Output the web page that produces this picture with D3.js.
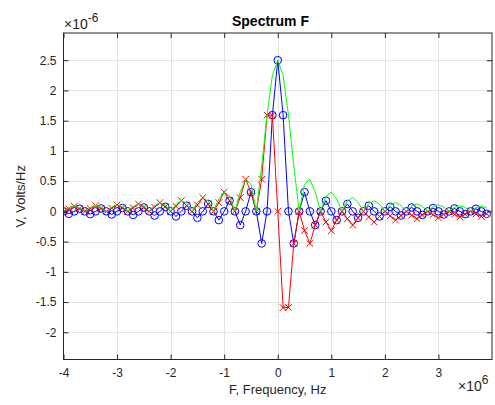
<!DOCTYPE html>
<html>
<head>
<meta charset="utf-8">
<script src="https://cdn.jsdelivr.net/npm/d3@7"></script>
<style>
  html, body { margin: 0; padding: 0; background: #ffffff; }
  svg { display: block; font-family: "Liberation Sans", Arial, Helvetica, sans-serif; }
</style>
</head>
<body>
<svg id="chart" width="495" height="405"></svg>
<script>
// Frequency samples, in units of 1e6 Hz
const freqMHz = [
  -4.0, -3.9, -3.8, -3.7, -3.6, -3.5, -3.4, -3.3, -3.2, -3.1,
  -3.0, -2.9, -2.8, -2.7, -2.6, -2.5, -2.4, -2.3, -2.2, -2.1,
  -2.0, -1.9, -1.8, -1.7, -1.6, -1.5, -1.4, -1.3, -1.2, -1.1,
  -1.0, -0.9, -0.8, -0.7, -0.6, -0.5, -0.4, -0.3, -0.2, -0.1,
   0.0,  0.1,  0.2,  0.3,  0.4,  0.5,  0.6,  0.7,  0.8,  0.9,
   1.0,  1.1,  1.2,  1.3,  1.4,  1.5,  1.6,  1.7,  1.8,  1.9,
   2.0,  2.1,  2.2,  2.3,  2.4,  2.5,  2.6,  2.7,  2.8,  2.9,
   3.0,  3.1,  3.2,  3.3,  3.4,  3.5,  3.6,  3.7,  3.8,  3.9
];
// Real part (blue, circles), units of 1e-6 V/Hz
const realPart = [
  0, -0.0408, 0, 0.0430, 0, -0.0455, 0, 0.0482, 0, -0.0513,
  0, 0.0549, 0, -0.0589, 0, 0.0637, 0, -0.0692, 0, 0.0758,
  0, -0.0838, 0, 0.0936, 0, -0.1061, 0, 0.1224, 0, -0.1447,
  0, 0.1768, 0, -0.2274, 0, 0.3183, 0, -0.5305, 0, 1.5915,
  2.5, 1.5915, 0, -0.5305, 0, 0.3183, 0, -0.2274, 0, 0.1768,
  0, -0.1447, 0, 0.1224, 0, -0.1061, 0, 0.0936, 0, -0.0838,
  0, 0.0758, 0, -0.0692, 0, 0.0637, 0, -0.0589, 0, 0.0549,
  0, -0.0513, 0, 0.0482, 0, -0.0455, 0, 0.0430, 0, -0.0408
];
// Imaginary part (red, crosses), units of 1e-6 V/Hz
const imagPart = [
  0, 0.0408, 0.0838, 0.0430, 0, 0.0455, 0.0936, 0.0482, 0, 0.0513,
  0.1061, 0.0549, 0, 0.0589, 0.1224, 0.0637, 0, 0.0692, 0.1447, 0.0758,
  0, 0.0838, 0.1768, 0.0936, 0, 0.1061, 0.2274, 0.1224, 0, 0.1447,
  0.3183, 0.1768, 0, 0.2274, 0.5305, 0.3183, 0, 0.5305, 1.5915, 1.5915,
  0, -1.5915, -1.5915, -0.5305, 0, -0.3183, -0.5305, -0.2274, 0, -0.1768,
  -0.3183, -0.1447, 0, -0.1224, -0.2274, -0.1061, 0, -0.0936, -0.1768, -0.0838,
  0, -0.0758, -0.1447, -0.0692, 0, -0.0637, -0.1224, -0.0589, 0, -0.0549,
  -0.1061, -0.0513, 0, -0.0482, -0.0936, -0.0455, 0, -0.0430, -0.0838, -0.0408
];
// Magnitude (green line), units of 1e-6 V/Hz
const magnitude = [
  0, 0.0577, 0.0838, 0.0608, 0, 0.0643, 0.0936, 0.0682, 0, 0.0726,
  0.1061, 0.0776, 0, 0.0834, 0.1224, 0.0900, 0, 0.0979, 0.1447, 0.1072,
  0, 0.1185, 0.1768, 0.1324, 0, 0.1501, 0.2274, 0.1731, 0, 0.2046,
  0.3183, 0.2501, 0, 0.3215, 0.5305, 0.4502, 0, 0.7503, 1.5915, 2.2508,
  2.5, 2.2508, 1.5915, 0.7503, 0, 0.4502, 0.5305, 0.3215, 0, 0.2501,
  0.3183, 0.2046, 0, 0.1731, 0.2274, 0.1501, 0, 0.1324, 0.1768, 0.1185,
  0, 0.1072, 0.1447, 0.0979, 0, 0.0900, 0.1224, 0.0834, 0, 0.0776,
  0.1061, 0.0726, 0, 0.0682, 0.0936, 0.0643, 0, 0.0608, 0.0838, 0.0577
];
const xTicks = [-4, -3, -2, -1, 0, 1, 2, 3];
const yTicks = [-2, -1.5, -1, -0.5, 0, 0.5, 1, 1.5, 2, 2.5];
const titleText = "Spectrum F";
const xLabelText = "F, Frequency, Hz";
const yLabelText = "V, Volts/Hz";

const L = 63.5, R = 492, T = 33, B = 359.5;
const svg = d3.select("#chart");
const x = d3.scaleLinear().domain([-4, 4]).range([L, R]);
const y = d3.scaleLinear().domain([-2.45, 2.95]).range([B, T]);
const axisColor = "#262626";

svg.append("rect").attr("x", L).attr("y", T).attr("width", R - L).attr("height", B - T).attr("fill", "#ffffff");

// grid
const grid = svg.append("g").attr("stroke", "#e3e3e3").attr("stroke-width", 1);
grid.selectAll(".gx").data(xTicks.filter(d => d !== -4)).join("line")
  .attr("x1", d => Math.round(x(d)) + 0.5).attr("x2", d => Math.round(x(d)) + 0.5)
  .attr("y1", T).attr("y2", B);
grid.selectAll(".gy").data(yTicks).join("line")
  .attr("y1", d => Math.round(y(d)) + 0.5).attr("y2", d => Math.round(y(d)) + 0.5)
  .attr("x1", L).attr("x2", R);

// clip
svg.append("defs").append("clipPath").attr("id", "clip")
  .append("rect").attr("x", L).attr("y", T).attr("width", R - L).attr("height", B - T);
const plot = svg.append("g").attr("clip-path", "url(#clip)");

const pts = (vals) => freqMHz.map((f, i) => [f, vals[i]]);
const line = d3.line().x(d => x(d[0])).y(d => y(d[1]));

// blue real
plot.append("path").datum(pts(realPart)).attr("d", line)
  .attr("fill", "none").attr("stroke", "#0000ff").attr("stroke-width", 1);
plot.selectAll(".circ").data(pts(realPart)).join("circle")
  .attr("cx", d => x(d[0])).attr("cy", d => y(d[1])).attr("r", 3.8)
  .attr("fill", "none").attr("stroke", "#0000ff").attr("stroke-width", 1);

// red imag
plot.append("path").datum(pts(imagPart)).attr("d", line)
  .attr("fill", "none").attr("stroke", "#ff0000").attr("stroke-width", 1);
const s = 3.3;
plot.selectAll(".cross").data(pts(imagPart)).join("path")
  .attr("d", d => {
    const cx = x(d[0]), cy = y(d[1]);
    return `M${cx - s},${cy - s}L${cx + s},${cy + s}M${cx - s},${cy + s}L${cx + s},${cy - s}`;
  })
  .attr("fill", "none").attr("stroke", "#ff0000").attr("stroke-width", 1);

// green magnitude
plot.append("path").datum(pts(magnitude)).attr("d", line)
  .attr("fill", "none").attr("stroke", "#00ff00").attr("stroke-width", 1);

// axes
const fmt = d => String(d);
const gB = svg.append("g").attr("transform", `translate(0,${B})`)
  .call(d3.axisBottom(x).tickValues(xTicks).tickSize(-5).tickPadding(9).tickFormat(fmt));
const gT = svg.append("g").attr("transform", `translate(0,${T})`)
  .call(d3.axisTop(x).tickValues(xTicks).tickSize(-5).tickFormat(""));
const gL = svg.append("g").attr("transform", `translate(${L},0)`)
  .call(d3.axisLeft(y).tickValues(yTicks).tickSize(-5).tickPadding(7).tickFormat(fmt));
const gR = svg.append("g").attr("transform", `translate(${R},0)`)
  .call(d3.axisRight(y).tickValues(yTicks).tickSize(-5).tickFormat(""));
[gB, gT, gL, gR].forEach(g => {
  g.select(".domain").remove();
  g.selectAll("line").attr("stroke", axisColor);
  g.selectAll("text").attr("fill", axisColor).style("font-size", "12px")
    .style("font-family", '"Liberation Sans", Arial, sans-serif');
});

svg.append("rect").attr("x", L).attr("y", T).attr("width", R - L).attr("height", B - T)
  .attr("fill", "none").attr("stroke", axisColor).attr("stroke-width", 1);

// title
svg.append("text").attr("x", 270.5).attr("y", 25.5).attr("text-anchor", "middle")
  .style("font-size", "14px").style("font-weight", "bold").attr("fill", "#000").text(titleText);

// labels
svg.append("text").attr("x", (L + R) / 2).attr("y", 394).attr("text-anchor", "middle")
  .style("font-size", "13px").attr("fill", axisColor).text(xLabelText);
svg.append("text").attr("transform", `translate(25,${(T + B) / 2}) rotate(-90)`)
  .attr("text-anchor", "middle")
  .style("font-size", "13px").attr("fill", axisColor).text(yLabelText);

// exponent labels
const e1 = svg.append("text").attr("x", 64).attr("y", 28.5).style("font-size", "14px").attr("fill", axisColor);
e1.append("tspan").text("\u00d710");
e1.append("tspan").attr("dy", -7).style("font-size", "12px").text("-6");
const e2 = svg.append("text").attr("x", 458).attr("y", 391).style("font-size", "14px").attr("fill", axisColor);
e2.append("tspan").text("\u00d710");
e2.append("tspan").attr("dy", -7).style("font-size", "12px").text("6");
</script>
</body>
</html>
